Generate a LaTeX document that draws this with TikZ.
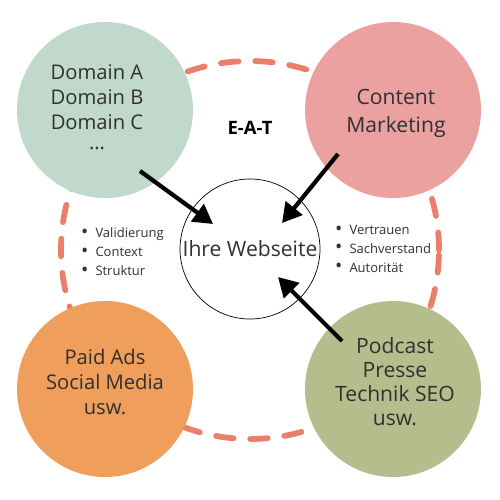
\documentclass[tikz,border=0pt]{standalone}
\usepackage{fontspec}
\setmainfont{Open Sans}
\usetikzlibrary{arrows.meta}

\definecolor{ringred}{RGB}{234,128,108}
\definecolor{domaingreen}{RGB}{193,216,204}
\definecolor{contentpink}{RGB}{235,161,160}
\definecolor{paidorange}{RGB}{240,158,92}
\definecolor{podcastolive}{RGB}{180,189,140}
\definecolor{textgray}{RGB}{48,48,48}

\newcommand{\listdot}{\raisebox{-0.4pt}{\fontsize{11}{10.8}\selectfont\textbullet}\hspace{4pt}}

\tikzset{
  blob/.style={circle,minimum size=35.2mm,inner sep=0pt},
  blobtext/.style={align=center,text=textgray,font=\fontsize{11.5}{14.2}\selectfont},
  smalllist/.style={align=left,text=textgray,anchor=west,font=\fontsize{7.4}{10.8}\selectfont},
  push/.style={line width=2.4pt,-{Triangle[length=11pt,width=12pt]}},
}

\begin{document}
\begin{tikzpicture}[x=0.2mm,y=-0.2mm]
  \useasboundingbox (0,0) rectangle (500,500);
  \draw[ringred,line width=3.3pt,line cap=round,dash pattern=on 10pt off 9.5pt] (250,250) circle [radius=37.8mm];
  \node[blob,fill=domaingreen]  (domain)  at (105,110) {};
  \node[blob,fill=contentpink]  (content) at (393,110) {};
  \node[blob,fill=paidorange]   (paid)    at (105,389) {};
  \node[blob,fill=podcastolive] (podcast) at (393,389) {};
  \node[circle,draw,thin,minimum size=28mm,inner sep=0pt] (web) at (250,249) {};
  \node[blobtext,font=\fontsize{12}{14}\selectfont] at (web) {Ihre Webseite};
  \node[font=\bfseries\fontsize{10.5}{12}\selectfont] (eat) at (250,128) {E-A-T};
  \node[blobtext] (domaintext) at (97,107) {Domain A\\Domain B\\Domain C\\[-3pt]\ldots};
  \node[blobtext,font=\fontsize{12}{15.9}\selectfont] (contenttext) at (396,113) {Content\\Marketing};
  \node[blobtext] (paidtext) at (105,382) {Paid Ads\\Social Media\\usw.};
  \node[blobtext,font=\fontsize{12}{13.7}\selectfont] (podcasttext) at (395,382) {Podcast\\Presse\\Technik SEO\\usw.};
  \node[smalllist] (leftlist) at (75,252)
     {\listdot Validierung\\\listdot Context\\\listdot Struktur};
  \node[smalllist] (rightlist) at (329,249)
     {\listdot Vertrauen\\\listdot Sachverstand\\\listdot Autorität};
  % arrows into the website
  \coordinate (d1) at (140,171);  \coordinate (d2) at (213,224);
  \coordinate (c1) at (338,154);  \coordinate (c2) at (282,223);
  \coordinate (p1) at (342,341);  \coordinate (p2) at (278,277);
  \draw[push] (d1) -- (d2);
  \draw[push] (c1) -- (c2);
  \draw[push] (p1) -- (p2);
\end{tikzpicture}
\end{document}
